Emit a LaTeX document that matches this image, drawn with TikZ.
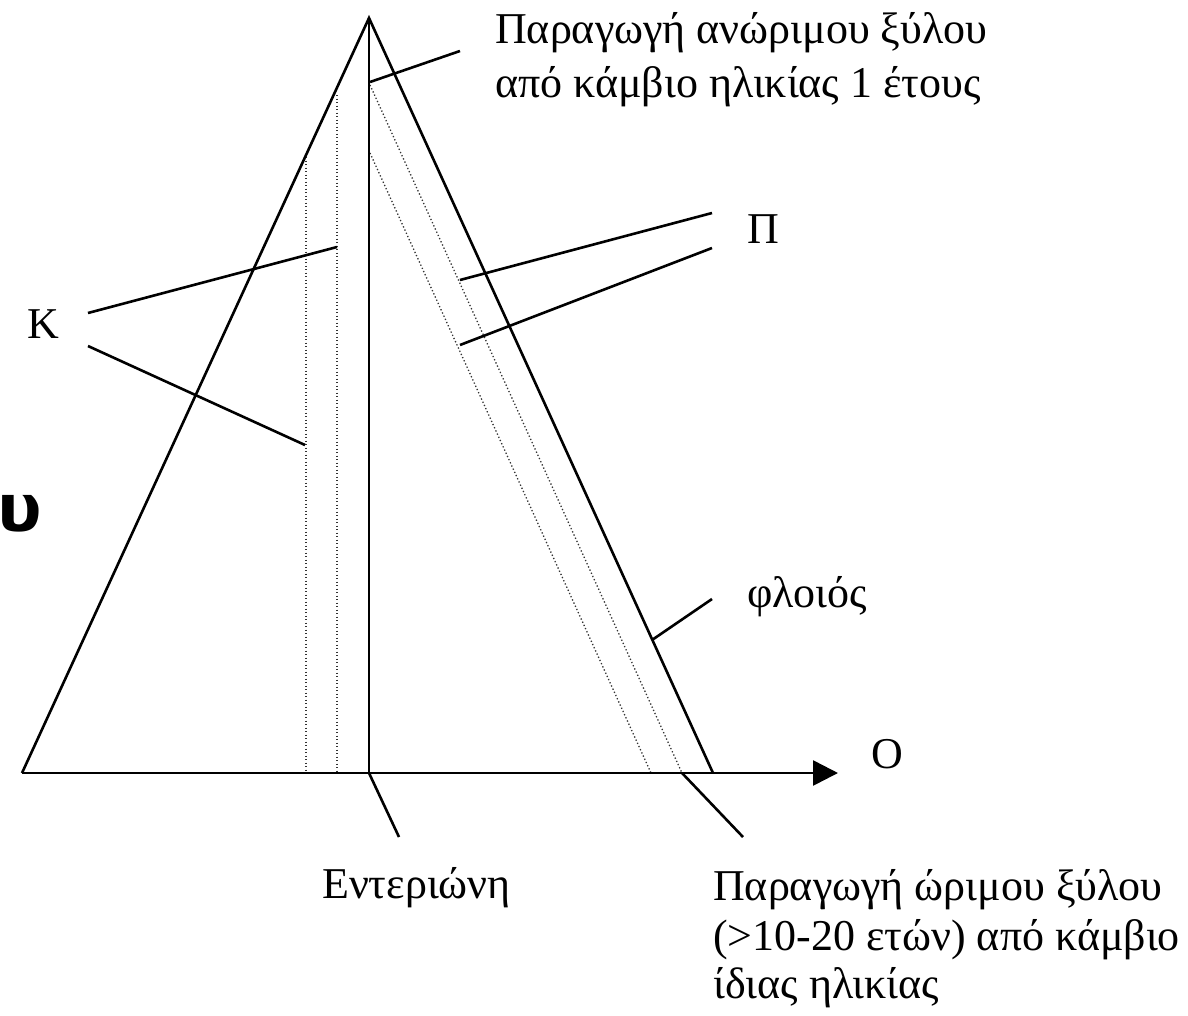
\documentclass[tikz,border=0pt]{standalone}
\usepackage{fontspec}
\setmainfont{Liberation Serif}
\newfontfamily\boldsans{DejaVu Sans Bold}
\usetikzlibrary{arrows.meta}
\begin{document}
\begin{tikzpicture}[x=1pt,y=-1pt,
  thick line/.style={line width=2.6pt},
  dotline/.style={line width=1.3pt, dash pattern=on 1.3pt off 2.2pt, black!80},
  lbl/.style={inner sep=0pt, anchor=base west, font=\fontsize{44}{54}\selectfont}]
\useasboundingbox (0,0) rectangle (1188,1015);
% key points
\coordinate (A) at (369,18);
\coordinate (L) at (22,773);
\coordinate (R) at (713,773);
\coordinate (C) at (369,773);
\coordinate (T) at (838,773);
% dotted lines
\coordinate (d1t) at (337,95);  \coordinate (d1b) at (337,773);
\coordinate (d2t) at (306,157); \coordinate (d2b) at (306,773);
\coordinate (d3t) at (370,85);  \coordinate (d3b) at (682,773);
\coordinate (d4t) at (370,153); \coordinate (d4b) at (651,773);
\draw[dotline] (d1t) -- (d1b);
\draw[dotline] (d2t) -- (d2b);
\draw[dotline] (d3t) -- (d3b);
\draw[dotline] (d4t) -- (d4b);
% triangle
\draw[thick line, line join=miter] (L) -- (A) -- (R);
\draw[thick line] (A) -- (C);
\draw[thick line, -{Triangle[length=25pt,width=25pt]}] (L) -- (T);
% labels
\node[lbl] (top1) at (495,43) {Παραγωγή ανώριμου ξύλου};
\node[lbl] (top2) at (495,97) {από κάμβιο ηλικίας 1 έτους};
\node[lbl] (P) at (747,243) {Π};
\node[lbl] (K) at (27,338) {Κ};
\node[lbl] (phl) at (747,607) {φλοιός};
\node[lbl] (O) at (871,768) {Ο};
\node[lbl] (ent) at (322,898) {Εντεριώνη};
\node[lbl] (b1) at (713,900) {Παραγωγή ώριμου ξύλου};
\node[lbl] (b2) at (713,950) {(>10-20 ετών) από κάμβιο};
\node[lbl] (b3) at (713,998) {ίδιας ηλικίας};
\node[inner sep=0pt, font=\boldsans\fontsize{66}{70}\selectfont] (U) at (20,514) {υ};
% leader lines
\coordinate (t1) at (370,82);  \coordinate (t2) at (460,51);
\draw[thick line] (t1) -- (t2);
\coordinate (p1a) at (460,280); \coordinate (p1b) at (712,213);
\coordinate (p2a) at (460,345); \coordinate (p2b) at (712,248);
\draw[thick line] (p1a) -- (p1b);
\draw[thick line] (p2a) -- (p2b);
\coordinate (k1a) at (88,313); \coordinate (k1b) at (337,247);
\coordinate (k2a) at (88,346); \coordinate (k2b) at (305,445);
\draw[thick line] (k1a) -- (k1b);
\draw[thick line] (k2a) -- (k2b);
\coordinate (f1) at (652,640); \coordinate (f2) at (712,599);
\draw[thick line] (f1) -- (f2);
\coordinate (e2) at (399,837);
\draw[thick line] (C) -- (e2);
\coordinate (m2) at (743,837);
\draw[thick line] (d3b) -- (m2);
\end{tikzpicture}
\end{document}
